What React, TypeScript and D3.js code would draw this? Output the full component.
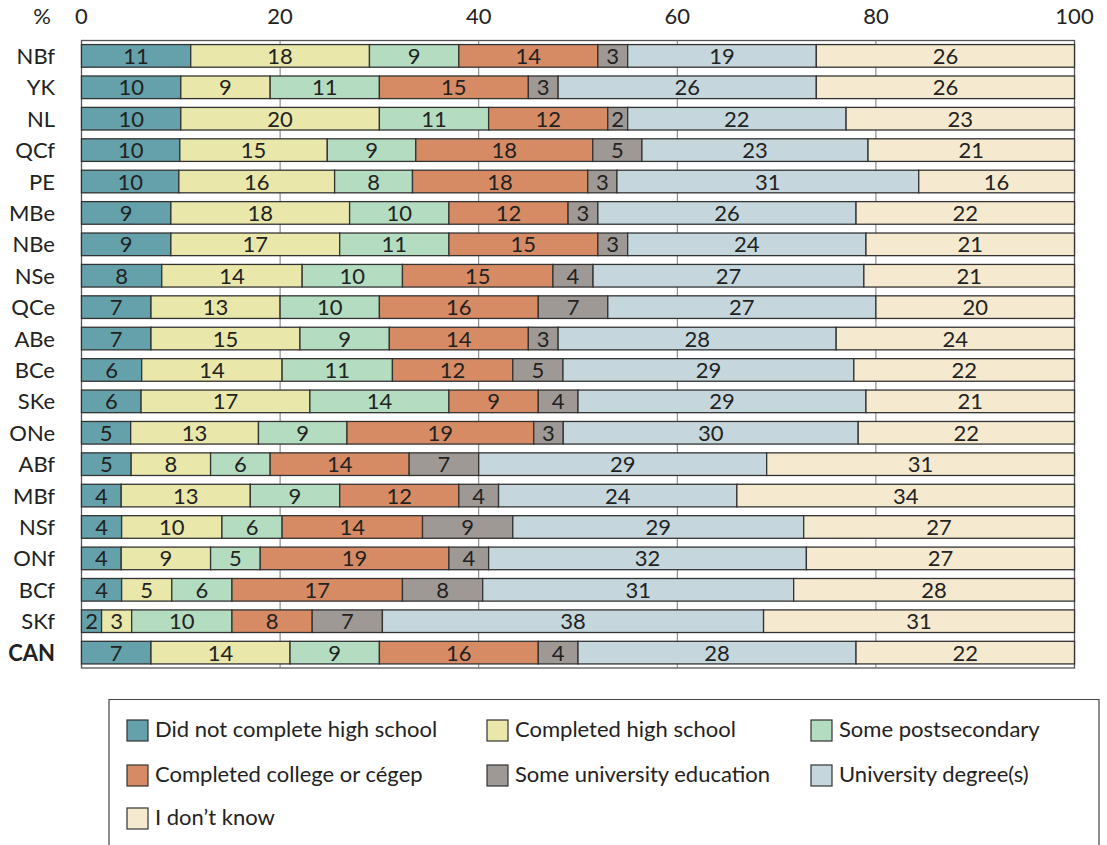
import React, { useEffect, useRef } from 'react';
import * as d3 from 'd3';

// rows, top to bottom
const regions: string[] = ['NBf', 'YK', 'NL', 'QCf', 'PE', 'MBe', 'NBe', 'NSe', 'QCe', 'ABe', 'BCe', 'SKe', 'ONe', 'ABf', 'MBf', 'NSf', 'ONf', 'BCf', 'SKf', 'CAN'];

const seriesNames: string[] = [
  'Did not complete high school',
  'Completed high school',
  'Some postsecondary',
  'Completed college or cégep',
  'Some university education',
  'University degree(s)',
  'I don\u2019t know',
];

const didNotComplete: number[] = [11, 10, 10, 10, 10, 9, 9, 8, 7, 7, 6, 6, 5, 5, 4, 4, 4, 4, 2, 7];
const completedHigh: number[] = [18, 9, 20, 15, 16, 18, 17, 14, 13, 15, 14, 17, 13, 8, 13, 10, 9, 5, 3, 14];
const somePostsec: number[] = [9, 11, 11, 9, 8, 10, 11, 10, 10, 9, 11, 14, 9, 6, 9, 6, 5, 6, 10, 9];
const college: number[] = [14, 15, 12, 18, 18, 12, 15, 15, 16, 14, 12, 9, 19, 14, 12, 14, 19, 17, 8, 16];
const someUniv: number[] = [3, 3, 2, 5, 3, 3, 3, 4, 7, 3, 5, 4, 3, 7, 4, 9, 4, 8, 7, 4];
const univDegree: number[] = [19, 26, 22, 23, 31, 26, 24, 27, 27, 28, 29, 29, 30, 29, 24, 29, 32, 31, 38, 28];
const dontKnow: number[] = [26, 26, 23, 21, 16, 22, 21, 21, 20, 24, 22, 21, 22, 31, 34, 27, 27, 28, 31, 22];

const xTicks: number[] = [0, 20, 40, 60, 80, 100];

const colors: string[] = ['#64a1aa', '#e9e7aa', '#b4dcc0', '#d68b64', '#9f9995', '#c5d7dc', '#f5eacf'];

const W = 1107;
const H = 845;
const FONT = "Lato, 'Open Sans', sans-serif";
const FS = 22;

export default function App() {
  const ref = useRef<SVGSVGElement>(null);

  useEffect(() => {
    document.body.style.margin = '0';
    const svg: any = d3.select(ref.current);
    svg.selectAll('*').remove();

    const series: number[][] = [didNotComplete, completedHigh, somePostsec, college, someUniv, univDegree, dontKnow];

    // build stacked rows, scaled to 100 since rounded labels don't always sum to 100
    const rows = regions.map((r, i) => {
      const vals = series.map(s => s[i]);
      const total = d3.sum(vals);
      let acc = 0;
      const segs = vals.map((v, k) => {
        const x0 = acc;
        acc += v * 100 / total;
        return { region: r, label: v, x0: x0, x1: acc, k: k };
      });
      return segs;
    });

    const left = 81.5, right = 1074.5, top = 40.5, bottom = 668;

    const xScale: any = d3.scaleLinear().domain([0, 100]).range([left, right]);
    const yScale: any = d3.scaleBand().domain(regions).range([top, bottom]).paddingInner(0.28).paddingOuter(0.13);

    // frame + gridlines
    svg.append('rect')
      .attr('x', left).attr('y', top)
      .attr('width', right - left).attr('height', bottom - top)
      .attr('fill', 'none').attr('stroke', '#555').attr('stroke-width', 1.3);

    svg.selectAll('.grid')
      .data(xTicks.slice(1, -1))
      .enter().append('line')
      .attr('x1', (d: number) => xScale(d)).attr('x2', (d: number) => xScale(d))
      .attr('y1', top).attr('y2', bottom)
      .attr('stroke', '#777').attr('stroke-width', 1);

    // tick labels across the top
    svg.selectAll('.tick')
      .data(xTicks)
      .enter().append('text')
      .attr('x', (d: number) => xScale(d))
      .attr('y', 24)
      .attr('text-anchor', 'middle')
      .attr('font-family', FONT).attr('font-size', FS).attr('fill', '#222')
      .text((d: number) => d);

    svg.append('text')
      .attr('x', 42).attr('y', 24)
      .attr('text-anchor', 'middle')
      .attr('font-family', FONT).attr('font-size', FS).attr('fill', '#222')
      .text('%');

    // region labels
    svg.selectAll('.ylab')
      .data(regions)
      .enter().append('text')
      .attr('x', 55)
      .attr('y', (d: string) => yScale(d) + yScale.bandwidth() / 2 + 8)
      .attr('text-anchor', 'end')
      .attr('font-family', FONT).attr('font-size', FS)
      .attr('font-weight', (d: string) => d === 'CAN' ? 700 : 400)
      .attr('fill', '#222')
      .text((d: string) => d);

    // bars
    const g: any = svg.selectAll('.bar')
      .data(rows)
      .enter().append('g')
      .classed('bar', true);

    const seg: any = g.selectAll('g')
      .data((d: any) => d)
      .enter().append('g');

    seg.append('rect')
      .attr('x', (d: any) => xScale(d.x0))
      .attr('y', (d: any) => yScale(d.region))
      .attr('width', (d: any) => xScale(d.x1) - xScale(d.x0))
      .attr('height', yScale.bandwidth())
      .attr('fill', (d: any) => colors[d.k])
      .attr('stroke', '#333')
      .attr('stroke-width', 1.3);

    seg.append('text')
      .attr('x', (d: any) => (xScale(d.x0) + xScale(d.x1)) / 2)
      .attr('y', (d: any) => yScale(d.region) + yScale.bandwidth() / 2 + 8)
      .attr('text-anchor', 'middle')
      .attr('font-family', FONT).attr('font-size', FS).attr('fill', '#222')
      .text((d: any) => d.label);

    // legend box (open at the bottom, runs off the page)
    const lx0 = 109, lx1 = 1099, ly0 = 699.5;
    svg.append('path')
      .attr('d', `M${lx0},${H + 5}V${ly0}H${lx1}V${H + 5}`)
      .attr('fill', 'none').attr('stroke', '#444').attr('stroke-width', 1.2);

    const colX: number[] = [127, 487, 811];
    const rowY: number[] = [720, 765, 808];

    const leg: any = svg.selectAll('.legend')
      .data(seriesNames)
      .enter().append('g')
      .attr('transform', (d: string, i: number) => `translate(${colX[i % 3]},${rowY[Math.floor(i / 3)]})`);

    leg.append('rect')
      .attr('width', 21).attr('height', 21)
      .attr('fill', (d: string, i: number) => colors[i])
      .attr('stroke', '#333').attr('stroke-width', 1.2);

    leg.append('text')
      .attr('x', 28).attr('y', 17)
      .attr('font-family', FONT).attr('font-size', FS).attr('fill', '#222')
      .text((d: string) => d);
  }, []);

  return <svg ref={ref} width={W} height={H} style={{ display: 'block', background: '#fff' }} />;
}
